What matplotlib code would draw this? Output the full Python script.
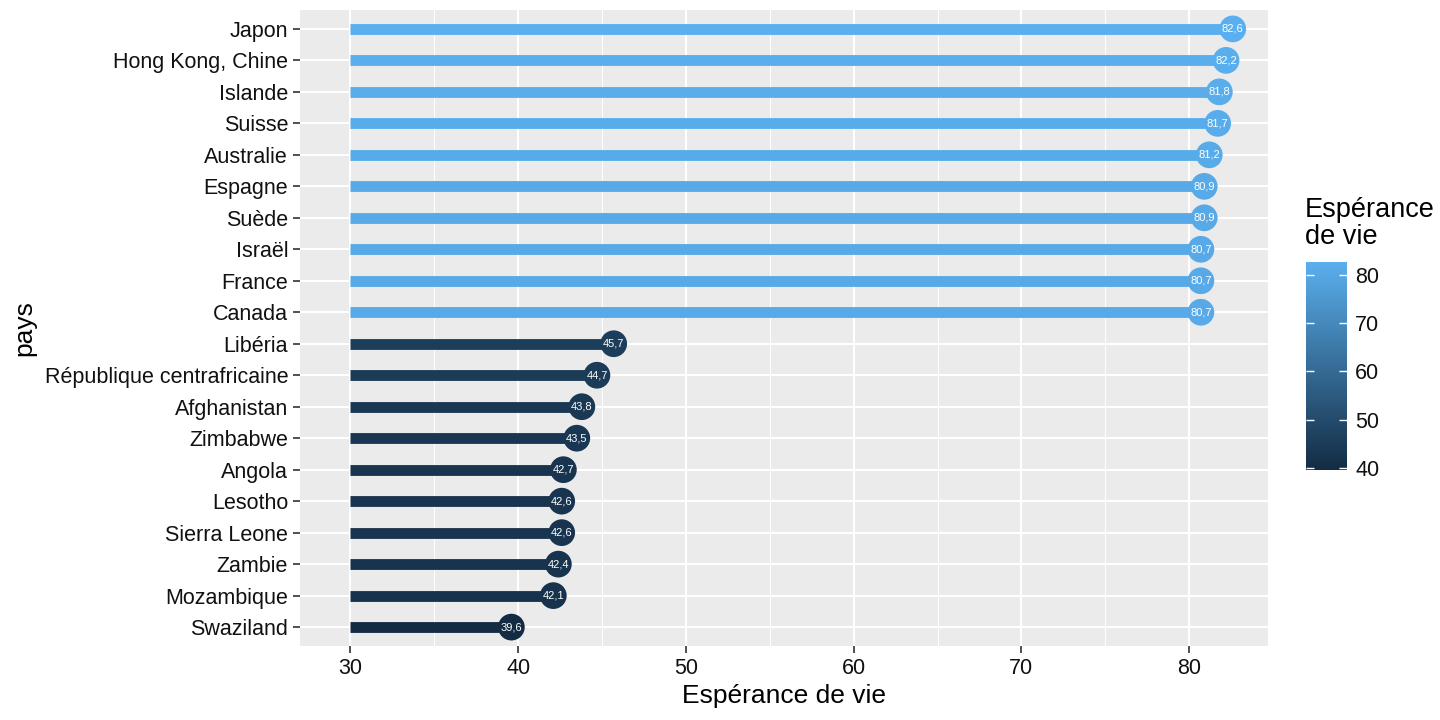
import numpy as np
import matplotlib
matplotlib.use("Agg")
import matplotlib.pyplot as plt
from matplotlib.colors import LinearSegmentedColormap, Normalize

plt.rcParams['font.family'] = ['Liberation Sans', 'DejaVu Sans']

# données
pays = ["Japon", "Hong Kong, Chine", "Islande", "Suisse", "Australie", "Espagne",
        "Suède", "Israël", "France", "Canada", "Libéria", "République centrafricaine",
        "Afghanistan", "Zimbabwe", "Angola", "Lesotho", "Sierra Leone", "Zambie",
        "Mozambique", "Swaziland"]
esperance = [82.6, 82.2, 81.8, 81.7, 81.2, 80.9, 80.9, 80.7, 80.7, 80.7,
             45.7, 44.7, 43.8, 43.5, 42.7, 42.6, 42.6, 42.4, 42.1, 39.6]
debut = 30
cbar_ticks = [40, 50, 60, 70, 80]

cmap = LinearSegmentedColormap.from_list("gg", ["#132B43", "#5AAFEE"])
norm = Normalize(vmin=min(esperance), vmax=max(esperance))

fig = plt.figure(figsize=(14.4, 7.2), dpi=100)
ax = fig.add_axes([300/1440, 1-646/720, 968/1440, 636/720])
ax.set_facecolor("#EBEBEB")

y = np.arange(len(pays))[::-1]
couleurs = [cmap(norm(v)) for v in esperance]

# grille
for xv in [35, 45, 55, 65, 75]:
    ax.axvline(xv, color="white", lw=0.7, zorder=0)
for xv in [30, 40, 50, 60, 70, 80]:
    ax.axvline(xv, color="white", lw=1.5, zorder=0)
for yv in y:
    ax.axhline(yv, color="white", lw=1.5, zorder=0)

for yi, v, c in zip(y, esperance, couleurs):
    ax.plot([debut, v], [yi, yi], color=c, lw=7.8, solid_capstyle="butt", zorder=2)
sc = ax.scatter(esperance, y, c=esperance, cmap=cmap, norm=norm, s=370, zorder=3, linewidths=0)
for yi, v in zip(y, esperance):
    ax.text(v, yi, f"{v:.1f}".replace(".", ","), color="white", fontsize=8,
            ha="center", va="center", zorder=4)

ax.set_xlim(27.0, 84.7)
ax.set_ylim(-0.6, len(pays) - 0.4)
ax.set_xticks([30, 40, 50, 60, 70, 80])
ax.set_yticks(y)
ax.set_yticklabels(pays)
ax.tick_params(axis="both", labelsize=15.5, colors="#333333", length=5, width=1.2,
               labelcolor="#111111")
for s in ax.spines.values():
    s.set_visible(False)

ax.set_xlabel("Espérance de vie", fontsize=19, labelpad=4)
ax.set_ylabel("pays", fontsize=19, labelpad=6)

# légende
cax = fig.add_axes([1306/1440, 1-470/720, 41/1440, 208/720])
cbar = fig.colorbar(sc, cax=cax)
cbar.outline.set_visible(False)
cbar.set_ticks(cbar_ticks)
cax.tick_params(length=0, labelsize=15.5, pad=6, labelcolor="#111111")
cax.hlines(cbar_ticks, 0, 0.2, color="white", lw=1.0, transform=cax.get_yaxis_transform())
cax.hlines(cbar_ticks, 0.8, 1.0, color="white", lw=1.0, transform=cax.get_yaxis_transform())
fig.text(1305/1440, 1-197/720, "Espérance\nde vie", fontsize=19.5, ha="left", va="top",
         linespacing=1.05)

fig.savefig("out.png", dpi=100)
